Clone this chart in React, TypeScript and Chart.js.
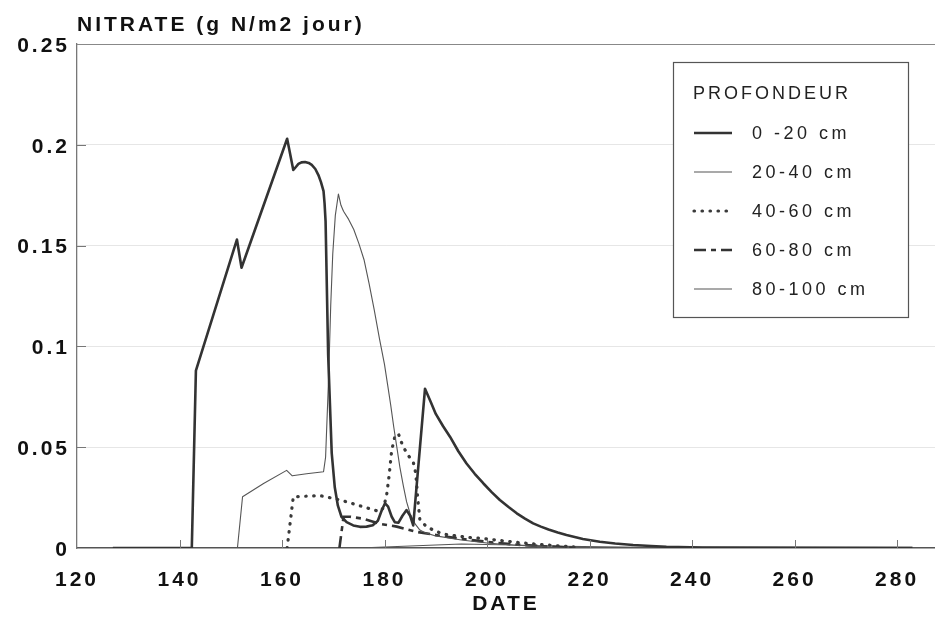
import React, { useEffect, useRef } from "react";
import { Chart, registerables } from "chart.js";

Chart.register(...registerables);

// ---- data ----
const DAYS_0_20 = [127, 142.4, 143.2, 151.2, 152.1, 161.0, 162.2, 162.7, 163.2, 163.8, 164.5, 165.2, 165.8, 166.5, 167.1, 167.6, 168.1, 168.3, 168.5, 169.0, 169.7, 170.3, 170.9, 171.6, 172.6, 173.9, 175.2, 176.5, 177.7, 178.7, 179.5, 180.1, 180.7, 181.4, 182.0, 182.7, 183.5, 184.3, 185.0, 185.6, 187.9, 189.0, 190.0, 191.4, 192.8, 194.4, 196.0, 197.6, 199.3, 200.9, 202.5, 204.2, 205.8, 207.4, 209.0, 210.5, 212.0, 213.8, 215.5, 218.7, 222.0, 225.0, 228.5, 232.0, 235.0, 242.0, 283.0];
const VALS_0_20 = [0, 0, 0.088, 0.153, 0.139, 0.203, 0.1875, 0.189, 0.1905, 0.1913, 0.1915, 0.191, 0.19, 0.188, 0.185, 0.1815, 0.177, 0.171, 0.162, 0.096, 0.047, 0.03, 0.021, 0.0155, 0.0128, 0.0112, 0.0105, 0.0106, 0.0113, 0.0135, 0.019, 0.0222, 0.0205, 0.0155, 0.0128, 0.0125, 0.016, 0.0188, 0.016, 0.0112, 0.079, 0.0725, 0.0665, 0.0605, 0.0551, 0.048, 0.0419, 0.0368, 0.032, 0.0277, 0.0238, 0.0203, 0.0172, 0.0146, 0.0122, 0.0106, 0.0092, 0.0077, 0.0064, 0.0045, 0.0031, 0.0022, 0.0015, 0.001, 0.0006, 0.0002, 0];

const DAYS_20_40 = [127, 151.3, 152.3, 156.4, 160.9, 162.0, 164.8, 168.1, 168.5, 169.1, 169.5, 169.9, 170.4, 171.0, 171.5, 172.0, 173.0, 174.0, 175.0, 176.0, 177.0, 178.0, 179.0, 180.0, 180.6, 181.2, 181.8, 182.4, 183.0, 183.7, 184.3, 185.0, 186.0, 186.9, 188, 190, 195, 200, 205, 210, 215];
const VALS_20_40 = [0, 0, 0.0254, 0.032, 0.0385, 0.0358, 0.0368, 0.0378, 0.045, 0.085, 0.12, 0.146, 0.165, 0.1756, 0.17, 0.167, 0.163, 0.158, 0.151, 0.143, 0.131, 0.118, 0.104, 0.091, 0.081, 0.071, 0.06, 0.05, 0.04, 0.0304, 0.023, 0.017, 0.0118, 0.0089, 0.0075, 0.006, 0.004, 0.0025, 0.0015, 0.0008, 0];

const DAYS_40_60 = [161.0, 162.2, 167.4, 170.7, 172.6, 175.9, 179.1, 179.8, 180.4, 180.9, 181.4, 182.0, 182.7, 183.2, 183.7, 184.6, 185.6, 186.1, 186.5, 186.9, 188.2, 189.8, 191.5, 194, 196.7, 200, 205, 210, 217];
const VALS_40_60 = [0, 0.0254, 0.026, 0.0242, 0.0229, 0.0204, 0.018, 0.02, 0.026, 0.036, 0.0485, 0.055, 0.0568, 0.053, 0.05, 0.046, 0.0427, 0.037, 0.024, 0.0139, 0.0106, 0.0085, 0.0069, 0.006, 0.0052, 0.0045, 0.003, 0.0018, 0.0005];

const DAYS_60_80 = [171.2, 172.0, 173.3, 175.9, 179.1, 182.4, 186.3, 191.5, 196.7, 199.9, 205, 210, 218];
const VALS_60_80 = [0, 0.0155, 0.0155, 0.0145, 0.012, 0.0106, 0.008, 0.0058, 0.004, 0.0031, 0.0018, 0.001, 0];

const DAYS_80_100 = [127, 175, 185, 195, 205, 215, 230, 283];
const VALS_80_100 = [0, 0, 0.001, 0.002, 0.0015, 0.0008, 0.0004, 0.0003];

const SERIES_LABELS = ["0 -20 cm", "20-40 cm", "40-60 cm", "60-80 cm", "80-100 cm"];
const X_TICKS = [120, 140, 160, 180, 200, 220, 240, 260, 280];
const Y_TICKS = [0, 0.05, 0.1, 0.15, 0.2, 0.25];
const Y_TITLE = "NITRATE (g N/m2 jour)";
const X_TITLE = "DATE";
const LEGEND_TITLE = "PROFONDEUR";

const FONT = "'Liberation Sans', Arial, Helvetica, sans-serif";

const toPoints = (days: number[], vals: number[]) => days.map((d, i) => ({ x: d, y: vals[i] }));

const decorPlugin = {
  id: "decor",
  beforeDraw(chart: any) {
    (chart.ctx as any).letterSpacing = "3px";
  },
  afterDraw(chart: any) {
    const ctx = chart.ctx as CanvasRenderingContext2D & { letterSpacing?: string };
    const area = chart.chartArea;
    const xs = chart.scales.x;
    const ys = chart.scales.y;
    ctx.save();
    // top frame line
    ctx.strokeStyle = "#888";
    ctx.lineWidth = 1.2;
    ctx.beginPath();
    ctx.moveTo(area.left, area.top + 0.5);
    ctx.lineTo(area.right, area.top + 0.5);
    ctx.stroke();
    // inward ticks
    ctx.strokeStyle = "#777";
    ctx.lineWidth = 1;
    X_TICKS.slice(1).forEach((v) => {
      const px = Math.round(xs.getPixelForValue(v)) + 0.5;
      ctx.beginPath();
      ctx.moveTo(px, area.bottom);
      ctx.lineTo(px, area.bottom - 8);
      ctx.stroke();
    });
    Y_TICKS.slice(1, -1).forEach((v) => {
      const py = Math.round(ys.getPixelForValue(v)) + 0.5;
      ctx.beginPath();
      ctx.moveTo(area.left, py);
      ctx.lineTo(area.left + 9, py);
      ctx.stroke();
    });
    // y axis title
    ctx.fillStyle = "#111";
    ctx.font = `bold 21px ${FONT}`;
    ctx.letterSpacing = "3px";
    ctx.textAlign = "left";
    ctx.textBaseline = "alphabetic";
    ctx.fillText(Y_TITLE, area.left, 31);

    // legend box
    const bx = 673.5, by = 62.5, bw = 235, bh = 255;
    ctx.fillStyle = "#fff";
    ctx.fillRect(bx, by, bw, bh);
    ctx.strokeStyle = "#555";
    ctx.lineWidth = 1.2;
    ctx.strokeRect(bx, by, bw, bh);
    ctx.fillStyle = "#222";
    ctx.font = `18px ${FONT}`;
    ctx.letterSpacing = "3px";
    ctx.textBaseline = "middle";
    ctx.fillText(LEGEND_TITLE, 693, 94);
    const rows = [133, 172, 211, 250, 289];
    chart.data.datasets.forEach((ds: any, i: number) => {
      const y = rows[i];
      ctx.save();
      ctx.strokeStyle = ds.borderColor;
      ctx.lineWidth = ds.borderWidth;
      ctx.lineCap = ds.borderCapStyle || "butt";
      ctx.setLineDash(ds.borderDash || []);
      ctx.beginPath();
      ctx.moveTo(694, y);
      ctx.lineTo(732, y);
      ctx.stroke();
      ctx.restore();
      ctx.fillStyle = "#222";
      ctx.font = `18px ${FONT}`;
      ctx.letterSpacing = "3.5px";
      ctx.textBaseline = "middle";
      ctx.fillText(ds.label, 752, y + 1);
    });
    ctx.restore();
    ctx.letterSpacing = "0px";
  },
};

export default function App() {
  const ref = useRef<HTMLCanvasElement | null>(null);
  useEffect(() => {
    document.body.style.margin = "0";
    const canvas = ref.current;
    if (!canvas) return;
    const chart = new Chart(canvas, {
      type: "line",
      data: {
        datasets: [
          {
            label: SERIES_LABELS[0],
            data: toPoints(DAYS_0_20, VALS_0_20),
            borderColor: "#333",
            borderWidth: 2.6,
            borderJoinStyle: "round",
            pointRadius: 0,
            tension: 0,
          },
          {
            label: SERIES_LABELS[1],
            data: toPoints(DAYS_20_40, VALS_20_40),
            borderColor: "#555",
            borderWidth: 1.1,
            borderJoinStyle: "round",
            pointRadius: 0,
            tension: 0,
          },
          {
            label: SERIES_LABELS[2],
            data: toPoints(DAYS_40_60, VALS_40_60),
            borderColor: "#3a3a3a",
            borderWidth: 3.2,
            borderDash: [0.5, 7.5],
            borderCapStyle: "round",
            pointRadius: 0,
            tension: 0,
          },
          {
            label: SERIES_LABELS[3],
            data: toPoints(DAYS_60_80, VALS_60_80),
            borderColor: "#333",
            borderWidth: 2.6,
            borderDash: [12, 5, 5, 5],
            pointRadius: 0,
            tension: 0,
          },
          {
            label: SERIES_LABELS[4],
            data: toPoints(DAYS_80_100, VALS_80_100),
            borderColor: "#555",
            borderWidth: 1.1,
            pointRadius: 0,
            tension: 0,
          },
        ] as any,
      },
      options: {
        responsive: false,
        animation: false,
        events: [],
        layout: { padding: { top: 44, right: 0, left: 0, bottom: 0 } },
        plugins: { legend: { display: false }, tooltip: { enabled: false }, title: { display: false } },
        scales: {
          x: {
            type: "linear",
            min: 120,
            max: 287.4,
            border: { display: true, color: "#555", width: 1.5 },
            grid: { display: false, drawTicks: false },
            ticks: {
              stepSize: 20,
              includeBounds: false,
              padding: 20,
              color: "#111",
              font: { family: FONT, size: 21, weight: "bold" },
              maxRotation: 0,
              autoSkip: false,
            },
            title: {
              display: true,
              text: X_TITLE,
              color: "#111",
              font: { family: FONT, size: 21, weight: "bold" },
              padding: { top: 0, bottom: 1 },
            },
            afterFit: (s: any) => {
              s.height = 70;
            },
          },
          y: {
            min: 0,
            max: 0.25,
            border: { display: true, color: "#777", width: 1.3 },
            grid: {
              drawTicks: false,
              color: (c: any) => {
                const v = c.tick ? c.tick.value : 0;
                return v > 0.001 && v < 0.249 ? "#e6e6e6" : "rgba(0,0,0,0)";
              },
              lineWidth: 1,
            },
            ticks: {
              stepSize: 0.05,
              padding: 7,
              labelOffset: 2,
              color: "#111",
              font: { family: FONT, size: 21, weight: "bold" },
              callback: (v: any) => String(Number(Number(v).toFixed(2))),
            },
            afterFit: (s: any) => {
              s.width = 77;
            },
          },
        },
      } as any,
      plugins: [decorPlugin],
    });
    return () => chart.destroy();
  }, []);
  return (
    <div style={{ width: 935, height: 618 }}>
      <canvas ref={ref} width={935} height={618} style={{ display: "block" }} />
    </div>
  );
}
